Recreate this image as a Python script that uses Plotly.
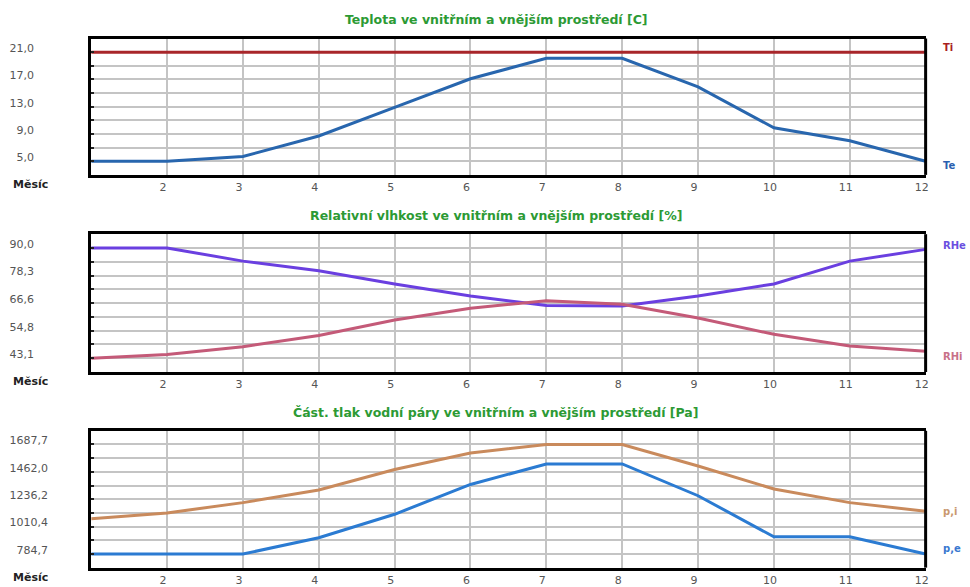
import plotly.graph_objects as go

# Monthly climate data for the interior / exterior environment
months = list(range(1, 13))

t_in = [21.0] * 12
t_out = [5.0, 5.0, 5.7, 8.7, 12.9, 17.1, 20.1, 20.1, 15.9, 9.9, 8.0, 5.0]

rh_e = [90.0, 90.0, 84.4, 80.3, 74.7, 69.6, 65.5, 65.3, 69.6, 74.7, 84.4, 89.4]
rh_i = [43.12, 44.7, 48.0, 52.8, 59.4, 64.4, 67.6, 66.1, 60.2, 53.3, 48.3, 46.1]

p_i = [1075.2, 1123.5, 1208.2, 1312.4, 1481.9, 1617.4, 1687.74, 1687.74,
       1510.0, 1321.0, 1208.2, 1137.0]
p_e = [784.66, 784.66, 784.66, 918.5, 1112.0, 1358.0, 1527.0, 1527.0,
       1265.0, 926.0, 926.0, 784.66]

titles = [
    "Teplota ve vnitřním a vnějším prostředí [C]",
    "Relativní vlhkost ve vnitřním a vnějším prostředí [%]",
    "Část. tlak vodní páry ve vnitřním a vnějším prostředí [Pa]",
]
x_label = "Měsíc"

W, H = 970, 587
GRID = "#c4c4c4"
TICK_FONT = dict(family="DejaVu Sans", size=11, color="#555555")

panels = [
    # (series, colours, names, plot top px, plot bottom px, label standoff)
    ([t_in, t_out], ["#a8262a", "#2866ae"], ["Ti", "Te"], 39, 177, 52),
    ([rh_e, rh_i], ["#6a3fe0", "#c45a78"], ["RHe", "RHi"], 237, 376.5, 52),
    ([p_i, p_e], ["#c98a5c", "#2b7bd2"], ["p,i", "p,e"], 436, 574.5, 38),
]
name_pos = {  # right-hand series names: (y px, colour)
    "Ti": (48, "#a82020"), "Te": (168, "#2a5fb0"),
    "RHe": (248, "#6a4fe0"), "RHi": (361, "#c87088"),
    "p,i": (518, "#c99870"), "p,e": (555, "#3a78d0"),
}

x_dom = [91.5 / W, 928.5 / W]

fig = go.Figure()
layout = dict(
    width=W, height=H,
    margin=dict(l=0, r=0, t=0, b=0),
    paper_bgcolor="white", plot_bgcolor="white",
    separators=", ",
    showlegend=False,
    annotations=[],
)

for i, (series, colours, names, top, bottom, standoff) in enumerate(panels, start=1):
    ax = "" if i == 1 else str(i)
    for s, c, n in zip(series, colours, names):
        fig.add_trace(go.Scatter(
            x=months, y=s, mode="lines", name=n,
            line=dict(color=c, width=3),
            xaxis="x" + ax, yaxis="y" + ax,
        ))

    lo = min(min(s) for s in series)
    hi = max(max(s) for s in series)
    step = (hi - lo) / 8
    major = [lo + 2 * k * step for k in range(5)]
    minor = [lo + (2 * k + 1) * step for k in range(4)]

    layout["xaxis" + ax] = dict(
        domain=x_dom, range=[1, 12], anchor="y" + ax,
        tickvals=months[1:], ticks="",
        showgrid=True, gridcolor=GRID, gridwidth=1.5,
        showline=True, mirror=True, linecolor="black", linewidth=3,
        zeroline=False, tickfont=TICK_FONT, ticklabelshift=-4,
        fixedrange=True,
    )
    layout["yaxis" + ax] = dict(
        domain=[1 - bottom / H, 1 - top / H],
        range=[lo - step, hi + step], anchor="x" + ax,
        tickvals=major, tickformat=".1f",
        ticks="inside", ticklen=3, tickwidth=1.5, tickcolor="#222222",
        showgrid=True, gridcolor=GRID, gridwidth=1.5,
        minor=dict(tickvals=minor, showgrid=True, gridcolor=GRID, gridwidth=1.5,
                   ticks="inside", ticklen=3, tickwidth=1.5, tickcolor="#222222"),
        showline=True, mirror=False, linecolor="black", linewidth=3,
        zeroline=False, tickfont=TICK_FONT,
        ticklabelstandoff=standoff, ticklabelshift=-4,
        fixedrange=True,
    )
    # right-hand frame edge of the panel
    fig.add_shape(type="line", xref="x" + ax + " domain", yref="y" + ax + " domain",
                  x0=1, x1=1, y0=0, y1=1, line=dict(color="black", width=3))

    # panel title
    layout["annotations"].append(dict(
        text="<b>" + titles[i - 1] + "</b>", xref="paper", yref="paper",
        x=498 / W, y=1 - (top - 19) / H, xanchor="center", yanchor="middle",
        showarrow=False,
        font=dict(family="DejaVu Sans", size=12.5, color="#2c9a34"),
    ))
    # x axis caption
    layout["annotations"].append(dict(
        text="<b>" + x_label + "</b>", xref="paper", yref="paper",
        x=11 / W, y=1 - (bottom + 10) / H, xanchor="left", yanchor="middle",
        showarrow=False,
        font=dict(family="DejaVu Sans", size=11, color="#222222"),
    ))
    # series names at the right edge
    for n in names:
        ypx, col = name_pos[n]
        layout["annotations"].append(dict(
            text="<b>" + n + "</b>", xref="paper", yref="paper",
            x=944 / W, y=1 - ypx / H, xanchor="left", yanchor="middle",
            showarrow=False,
            font=dict(family="DejaVu Sans", size=10, color=col),
        ))

fig.update_layout(**layout)
fig.write_html("out.html")
